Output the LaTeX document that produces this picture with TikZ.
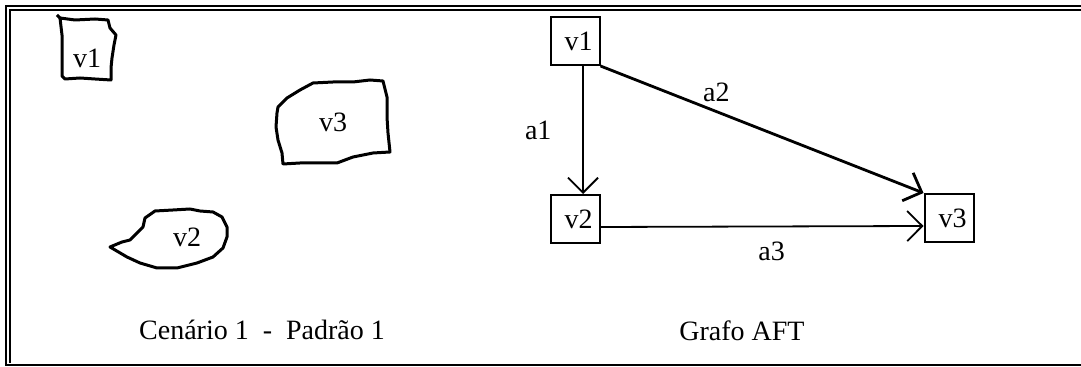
\documentclass[tikz,border=0pt]{standalone}
\usepackage{fontspec}
\setmainfont{Liberation Serif}
\usetikzlibrary{arrows.meta}
\tikzset{aftpic/.style={x=0.5pt,y=-0.5pt,font=\fontsize{14}{16}\selectfont},
  blob/.style={line width=1.5pt,line join=round},
  vbox/.style={draw,line width=1pt,minimum width=24.5pt,minimum height=24pt,inner sep=0pt},
  arc/.style={line width=0.9pt,-{Straight Barb[length=7.5pt,width=15pt]}},
  frame/.style={line width=0.9pt}}

\begin{document}
\begin{tikzpicture}[aftpic]
    \useasboundingbox (0,0) rectangle (1081,367);
    % moldura
    \draw[frame] (1090,6) -- (6,6) -- (6,365) -- (1090,365);
    \draw[frame] (1090,10) -- (10,10) -- (10,363);
    % cenario: regioes desenhadas a mao
    \draw[blob] (60,18) -- (75,20) -- (95,19) -- (108,20) -- (110,28) -- (116,35) -- (114,45) -- (112,58) -- (111,68) -- (111,80)
      -- (95,79) -- (80,78) -- (65,79) -- (62,76) -- (62,55) -- (62,35) -- cycle;
    \draw[blob] (57,15) -- (62,20);
    \draw[blob] (278,107) -- (287,98) -- (300,90) -- (313,83) -- (333,82) -- (353,82) -- (370,80) -- (383,81) -- (387,97) -- (387,117)
      -- (388,133) -- (390,152) -- (373,153) -- (353,157) -- (337,163) -- (317,163) -- (300,163) -- (283,164) -- (282,153)
      -- (278,140) -- (276,127) -- (277,113) -- cycle;
    \draw[blob] (110,247) -- (122,242) -- (130,240) -- (137,233) -- (143,227) -- (145,218) -- (155,211) -- (173,210) -- (190,209)
      -- (200,211) -- (213,212) -- (222,217) -- (227,227) -- (227,237) -- (223,248) -- (213,257) -- (197,263) -- (177,268)
      -- (157,268) -- (140,263) -- (127,257) -- cycle;
    \node (r1) at (87,58) {v1};
    \node (r3) at (333,122) {v3};
    \node (r2) at (187,237) {v2};
    \node (cen) at (262,330) {Cenário 1 \ - \ Padrão 1};
    % grafo AFT
    \node[vbox] (v1) at (575,41) {\ v1};
    \node[vbox] (v2) at (575,219) {\ v2};
    \node[vbox] (v3) at (949,218) {\ v3};
    \draw[arc] ([xshift=4pt]v1.south) -- node[left=12pt] {a1} ([xshift=4pt]v2.north);
    \draw[arc,line width=1.4pt] (v1.south east) -- node[anchor=south west,xshift=-6pt,yshift=-1pt,pos=0.33] {a2} (v3.north west);
    \draw[arc] ([yshift=-4pt]v2.east) -- node[below=4pt,pos=0.53] {a3} ([yshift=-4pt]v3.west);
    \node (aft) at (742,331) {Grafo AFT};
\end{tikzpicture}
\end{document}
